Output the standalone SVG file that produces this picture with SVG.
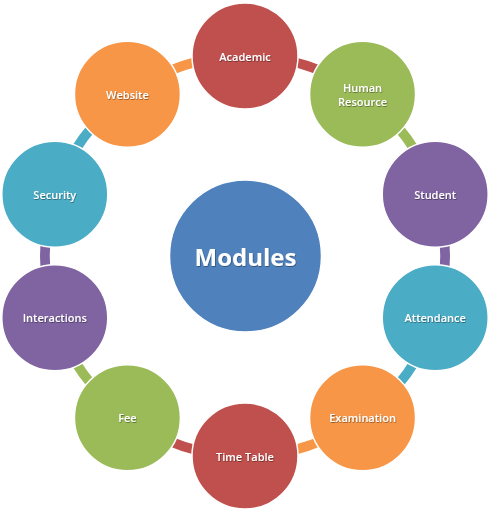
<svg xmlns="http://www.w3.org/2000/svg" width="490" height="512" viewBox="0 0 490 512">
  <defs>
    <filter id="ts" x="-20%" y="-40%" width="140%" height="180%">
      <feDropShadow dx="0.6" dy="0.8" stdDeviation="0.5" flood-color="#000" flood-opacity="0.45"/>
    </filter>
    <style>
      .node { stroke: #ffffff; stroke-width: 1.5; }
      .lbl { font-family: "Open Sans", "Liberation Sans", sans-serif; font-size: 11px; font-weight: 600; fill: #ffffff; text-anchor: middle; dominant-baseline: central; filter: url(#ts); }
      .big { font-size: 24px; font-weight: bold; }
      .conn { fill: none; stroke-width: 10; }
      .red { fill: #C0504D; } .green { fill: #9BBB59; } .purple { fill: #8064A2; }
      .teal { fill: #4BACC6; } .orange { fill: #F79646; } .blue { fill: #4F81BD; }
    </style>
  </defs>
  <rect width="490" height="512" fill="#ffffff"/>
  <g id="connectors">
    <path class="conn" stroke="#C0504D" d="M245 56 A200 200 0 0 1 362.56 94.2"/>
    <path class="conn" stroke="#9BBB59" d="M362.56 94.2 A200 200 0 0 1 435.21 194.2"/>
    <path class="conn" stroke="#8064A2" d="M435.21 194.2 A200 200 0 0 1 435.21 317.8"/>
    <path class="conn" stroke="#4BACC6" d="M435.21 317.8 A200 200 0 0 1 362.56 417.8"/>
    <path class="conn" stroke="#F79646" d="M362.56 417.8 A200 200 0 0 1 245 456"/>
    <path class="conn" stroke="#C0504D" d="M245 456 A200 200 0 0 1 127.44 417.8"/>
    <path class="conn" stroke="#9BBB59" d="M127.44 417.8 A200 200 0 0 1 54.79 317.8"/>
    <path class="conn" stroke="#8064A2" d="M54.79 317.8 A200 200 0 0 1 54.79 194.2"/>
    <path class="conn" stroke="#4BACC6" d="M54.79 194.2 A200 200 0 0 1 127.44 94.2"/>
    <path class="conn" stroke="#F79646" d="M127.44 94.2 A200 200 0 0 1 245 56"/>
  </g>
  <g id="modules">
    <circle class="node blue" cx="245.5" cy="256" r="76"/>
    <text class="lbl big" x="245.5" y="256">Modules</text>
  </g>
  <g id="academic">
    <circle class="node red" cx="245" cy="56" r="53"/>
    <text class="lbl" x="245" y="56">Academic</text>
  </g>
  <g id="human-resource">
    <circle class="node green" cx="362.56" cy="94.2" r="53"/>
    <text class="lbl" x="362.56" y="87.5">Human</text>
    <text class="lbl" x="362.56" y="101.5">Resource</text>
  </g>
  <g id="student">
    <circle class="node purple" cx="435.21" cy="194.2" r="53"/>
    <text class="lbl" x="435.21" y="194.2">Student</text>
  </g>
  <g id="attendance">
    <circle class="node teal" cx="435.21" cy="317.8" r="53"/>
    <text class="lbl" x="435.21" y="317.8">Attendance</text>
  </g>
  <g id="examination">
    <circle class="node orange" cx="362.56" cy="417.8" r="53"/>
    <text class="lbl" x="362.56" y="417.8">Examination</text>
  </g>
  <g id="time-table">
    <circle class="node red" cx="245" cy="456" r="53"/>
    <text class="lbl" x="245" y="456">Time Table</text>
  </g>
  <g id="fee">
    <circle class="node green" cx="127.44" cy="417.8" r="53"/>
    <text class="lbl" x="127.44" y="417.8">Fee</text>
  </g>
  <g id="interactions">
    <circle class="node purple" cx="54.79" cy="317.8" r="53"/>
    <text class="lbl" x="54.79" y="317.8">Interactions</text>
  </g>
  <g id="security">
    <circle class="node teal" cx="54.79" cy="194.2" r="53"/>
    <text class="lbl" x="54.79" y="194.2">Security</text>
  </g>
  <g id="website">
    <circle class="node orange" cx="127.44" cy="94.2" r="53"/>
    <text class="lbl" x="127.44" y="94.2">Website</text>
  </g>
</svg>
